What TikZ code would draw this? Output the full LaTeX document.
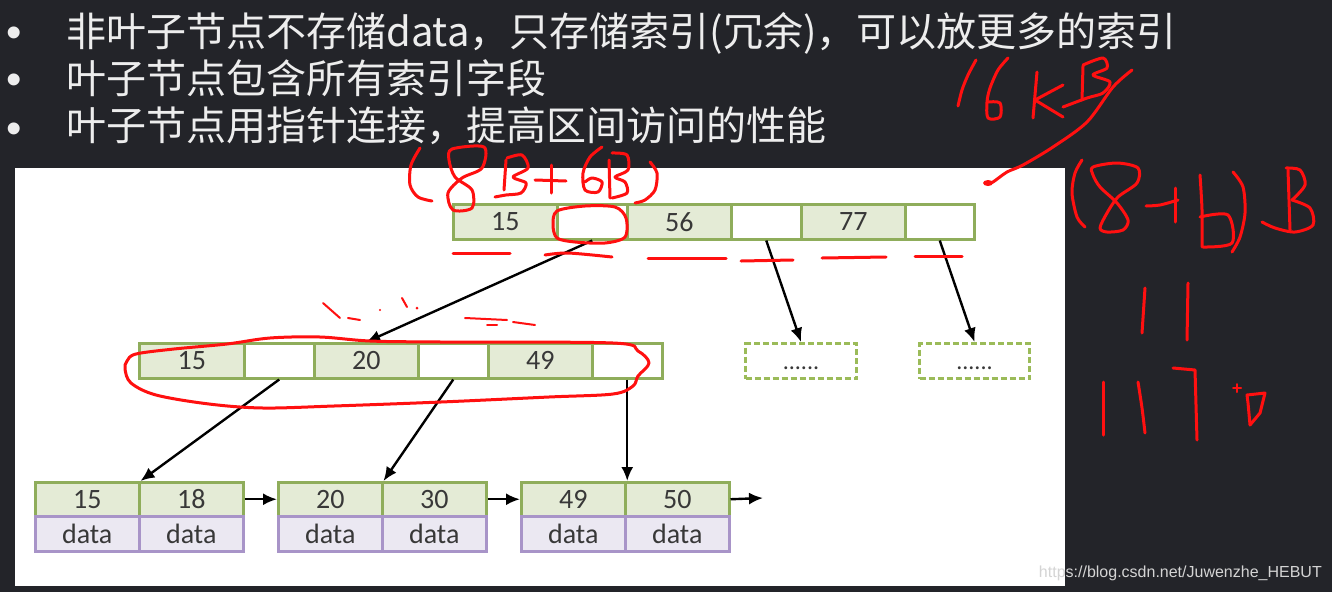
\documentclass[tikz,border=0pt]{standalone}
\usepackage{fontspec}
\setmainfont{Carlito}
\newfontfamily\cjk{Noto Sans CJK SC}
\newfontfamily\wmfont{Liberation Sans}
\usetikzlibrary{arrows.meta}
\definecolor{bgdark}{HTML}{232429}
\definecolor{slidetext}{HTML}{EDEDED}
\definecolor{keyfill}{HTML}{E4EBD6}
\definecolor{keydraw}{HTML}{8FAD5B}
\definecolor{datafill}{HTML}{EBE8F2}
\definecolor{datadraw}{HTML}{A894C8}
\definecolor{celltext}{HTML}{383838}
\definecolor{inkred}{HTML}{FF1010}
\definecolor{wmgray}{HTML}{D4D4D4}
\definecolor{dashgreen}{HTML}{9BBB59}
\begin{document}
\begin{tikzpicture}[x=1pt,y=-1pt,
  cellbase/.style={line width=2.5pt, minimum height=35pt, inner sep=0pt, anchor=north west,
    font=\fontsize{28}{28}\selectfont, text=celltext},
  keycell/.style={cellbase, draw=keydraw, fill=keyfill, minimum width=104pt},
  ptrcell/.style={cellbase, draw=keydraw, fill=white, minimum width=70pt},
  datacell/.style={cellbase, draw=datadraw, fill=datafill, minimum width=104pt},
  dashbox/.style={cellbase, draw=dashgreen, fill=white, line width=3pt, dash pattern=on 6pt off 3pt, minimum width=111pt},
  arr/.style={draw=black, line width=2.4pt, -{Latex[length=14pt,width=12pt]}},
  redink/.style={draw=inkred, line width=3pt, line cap=round, line join=round},
  redthin/.style={draw=inkred, line width=2pt, line cap=round, line join=round},
  bullettext/.style={anchor=base west, font=\cjk\fontsize{40}{40}\selectfont, text=slidetext, inner sep=0pt},
  bulletdot/.style={anchor=base west, font=\wmfont\fontsize{44}{44}\selectfont, text=slidetext, inner sep=0pt}
]
\useasboundingbox (0,0) rectangle (1332,592);
\fill[bgdark] (0,0) rectangle (1332,592);
\fill[white] (15,168) rectangle (1065,586);

% slide bullets
\node[bulletdot] (b1) at (6,47) {•};
\node[bulletdot] (b2) at (6,94) {•};
\node[bulletdot] (b3) at (6,143) {•};
\node[bullettext] (s1) at (66,46) {非叶子节点不存储data，只存储索引(冗余)，可以放更多的索引};
\node[bullettext] (s2) at (66,93) {叶子节点包含所有索引字段};
\node[bullettext] (s3) at (66,140) {叶子节点用指针连接，提高区间访问的性能};

% root node
\node[keycell] (t1) at (452,203) {15};
\node[keycell] (t3) at (626,203) {56};
\node[keycell] (t5) at (800,203) {77};
\node[ptrcell] (t2) at (556,203) {};
\node[ptrcell] (t4) at (730,203) {};
\node[ptrcell, minimum width=69pt] (t6) at (904,203) {};

% internal node
\node[keycell, minimum width=105pt] (m1) at (138,342) {15};
\node[keycell] (m3) at (313,342) {20};
\node[keycell] (m5) at (487,342) {49};
\node[ptrcell] (m2) at (243,342) {};
\node[ptrcell] (m4) at (417,342) {};
\node[ptrcell] (m6) at (591,342) {};

% dashed placeholders
\node[dashbox] (d1) at (744,342) {\vphantom{0}\fontsize{24}{24}\selectfont......};
\node[dashbox, minimum width=110pt] (d2) at (918,342) {\vphantom{0}\fontsize{24}{24}\selectfont......};

% leaves
\node[keycell, minimum height=34pt] (l1a) at (34,481) {15};
\node[keycell, minimum height=34pt] (l1b) at (138,481) {18};
\node[datacell] (l1c) at (34,515) {data};
\node[datacell] (l1d) at (138,515) {data};
\node[keycell, minimum height=34pt] (l2a) at (277,481) {20};
\node[keycell, minimum height=34pt] (l2b) at (381,481) {30};
\node[datacell] (l2c) at (277,515) {data};
\node[datacell] (l2d) at (381,515) {data};
\node[keycell, minimum height=34pt] (l3a) at (520,481) {49};
\node[keycell, minimum height=34pt] (l3b) at (624,481) {50};
\node[datacell] (l3c) at (520,515) {data};
\node[datacell] (l3d) at (624,515) {data};
\coordinate (lend) at (763,498);

% connectors
\draw[arr] (t2.south) -- (m3.north);
\draw[arr] (t4.south) -- (d1.north);
\draw[arr] (t6.south) -- (d2.north);
\draw[arr] (m2.south) -- (l1a.north east);
\draw[arr] (m4.south) -- (l2a.north east);
\draw[arr] (m6.south) -- (m6.south |- l3a.north);
\draw[arr] (l1b.east) -- (l2a.west);
\draw[arr] (l2b.east) -- (l3a.west);
\draw[arr] (l3b.east) -- (lend);

% ---- red handwriting ----
% (8B+6B)
\draw[redink] plot[smooth] coordinates {(420,148) (411,165) (410,185) (418,197) (432,201)};
\draw[redink] plot[smooth cycle] coordinates {(452,149) (484,147) (482,168) (462,178) (448,193) (453,210) (472,208) (472,190) (455,177) (449,160)};
\draw[redink] (506,160) -- (504,190);
\draw[redink] plot[smooth] coordinates {(507,158) (522,155) (528,168) (513,177) (526,183) (521,193) (506,195) (495,197)};
\draw[redink] (535,180) -- (566,181);
\draw[redink] (551,165) -- (551,193);
\draw[redink] plot[smooth] coordinates {(602,147) (590,157) (583,173) (585,190) (598,192) (602,182) (592,178) (585,182)};
\draw[redink] (609,160) -- (610,198);
\draw[redink] plot[smooth] coordinates {(612,153) (627,155) (628,170) (615,177) (625,182) (627,193) (612,198)};
\draw[redink] plot[smooth] coordinates {(650,162) (657,173) (655,190) (645,200) (635,203)};
% circle round pointer cell
\draw[redink] plot[smooth cycle] coordinates {(557,211) (585,206) (615,207) (626,218) (625,237) (605,243) (575,242) (557,238) (553,225)};
% underlines
\draw[redink] (453,253) -- (510,253);
\draw[redink] plot[smooth] coordinates {(545,255) (568,253) (612,257)};
\draw[redink] (648,258) -- (726,258);
\draw[redink] (741,261) -- (793,260);
\draw[redink] (822,258) -- (886,257);
\draw[redink] (915,256) -- (962,256);
% 16kB
\draw[redink] plot[smooth] coordinates {(976,60) (968,75) (962,90) (958,106)};
\draw[redink] plot[smooth] coordinates {(1008,58) (998,70) (990,88) (987,102) (988,118) (1000,117) (1000,103) (988,102)};
\draw[redink] (1037,72) -- (1033,118);
\draw[redink] (1063,85) -- (1035,100) -- (1063,117);
\draw[redink] (1083,66) -- (1082,100);
\draw[redink] plot[smooth] coordinates {(1083,65) (1103,58) (1107,68) (1093,75) (1110,82) (1103,93) (1087,98) (1063,107)};
\draw[redink] plot[smooth] coordinates {(1132,70) (1113,87) (1087,122) (1053,147) (1023,165) (1007,172) (993,182) (987,184)};
\fill[inkred] (988,183) ellipse (5 and 3);
% (8+6)B
\draw[redink] plot[smooth] coordinates {(1082,160) (1075,173) (1072,193) (1077,217) (1085,227)};
\draw[redink] plot[smooth cycle] coordinates {(1093,167) (1117,163) (1138,168) (1137,183) (1118,197) (1107,213) (1100,228) (1107,232) (1123,230) (1128,220) (1117,203) (1100,187) (1093,175)};
\draw[redink] plot[smooth] coordinates {(1146,206) (1160,205) (1178,200)};
\draw[redink] (1175,188) -- (1175,222);
\draw[redink] plot[smooth] coordinates {(1200,175) (1202,210) (1202,247)};
\draw[redink] plot[smooth] coordinates {(1200,217) (1228,215) (1232,243) (1203,247)};
\draw[redink] plot[smooth] coordinates {(1233,172) (1243,187) (1245,213) (1240,237) (1232,252)};
\draw[redink] (1288,170) -- (1290,230);
\draw[redink] plot[smooth] coordinates {(1286,168) (1300,170) (1305,185) (1292,200)};
\draw[redink] plot[smooth] coordinates {(1292,200) (1310,208) (1313,225) (1295,232) (1275,228) (1262,222)};
% 11
\draw[redink] (1145,288) -- (1142,333);
\draw[redink] (1188,283) -- (1187,340);
% 117 and +D
\draw[redink] (1103,382) -- (1103,435);
\draw[redink] plot[smooth] coordinates {(1138,382) (1142,408) (1145,433)};
\draw[redink] (1173,368) -- (1195,370) -- (1197,440);
\draw[redthin] (1233,388) -- (1241,388);
\draw[redthin] (1237,384) -- (1237,392);
\draw[redink] (1248,403) -- (1247,395) -- (1265,393) -- (1260,413) -- (1250,425) -- cycle;
% ellipse around middle row
\draw[redink] plot[smooth cycle, tension=0.55] coordinates {(127,361) (136,354) (174,349) (227,344) (270,338) (320,337) (370,341) (441,342) (613,343) (638,351) (649,363) (638,376) (633,386) (613,394) (549,397) (441,402) (334,406) (263,408) (209,404) (156,395) (131,383) (125,369)};
% small dashes above middle row
\draw[redthin] (323,303) -- (340,318);
\draw[redthin] (348,318) -- (360,320);
\fill[inkred] (380,310) circle (1.2);
\draw[redthin] (402,298) -- (407,307);
\fill[inkred] (417,308) circle (1.5);
\draw[redthin] (465,318) -- (507,320);
\draw[redthin] (513,322) -- (535,325);
\draw[redthin] (487,325) -- (497,325);

% watermark
\node[anchor=base east, inner sep=0pt, font=\wmfont\fontsize{16}{16}\selectfont, text=wmgray] (wm) at (1322,577) {https://blog.csdn.net/Juwenzhe\_HEBUT};
\end{tikzpicture}
\end{document}
